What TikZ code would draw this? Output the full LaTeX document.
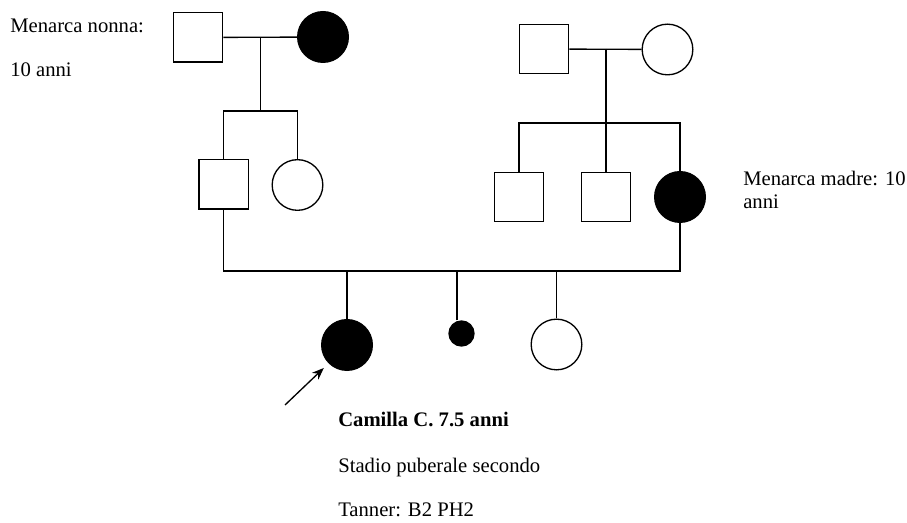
\documentclass[tikz,border=0pt]{standalone}
\usepackage{fontspec}
\setmainfont{Liberation Serif}
\usetikzlibrary{arrows.meta}
\begin{document}
\begin{tikzpicture}[x=0.75pt,y=-0.75pt,
  male/.style={draw,rectangle,minimum size=37pt,inner sep=0pt,line width=1pt},
  female/.style={draw,circle,minimum size=38pt,inner sep=0pt,line width=1pt},
  small/.style={draw,circle,fill=black,minimum size=18.75pt,inner sep=0pt,line width=1pt},
  aff/.style={fill=black},
  link/.style={line width=1pt},
  lbl/.style={anchor=base west,inner sep=0pt,font=\fontsize{15.5pt}{18pt}\selectfont}]
\useasboundingbox (0,0) rectangle (907,523);
% generation I
\node[male] (gf1) at (198,37.5) {};
\node[female,aff] (gm1) at (323,37) {};
\node[male] (gf2) at (544,49) {};
\node[female] (gm2) at (667.5,49.5) {};
% generation II
\node[male] (f) at (223.5,184.5) {};
\node[female] (aunt) at (297.5,185) {};
\node[male] (u1) at (519,197) {};
\node[male] (u2) at (606,197) {};
\node[female,aff] (m) at (680,197) {};
% generation III
\node[female,aff] (p) at (347,345) {};
\node[small] (sm) at (461.5,333.5) {};
\node[female] (sis) at (556.5,344.5) {};
% level coordinates
\coordinate (s1) at (0,111);
\coordinate (s2) at (0,123);
\coordinate (cl) at (0,271);
\coordinate (d1) at (260.5,0);
\coordinate (d2) at (606,0);
% couple 1
\draw[link] (gf1) -- (gm1);
\draw[link] (d1 |- gf1) -- (d1 |- s1);
\draw[link] (f.north) -- (f.north |- s1) -- (aunt.north |- s1) -- (aunt.north);
% couple 2
\draw[link] (gf2) -- (gm2);
\draw[link] (d2 |- gf2) -- (d2 |- s2);
\draw[link] (u1.north) -- (u1.north |- s2) -- (m.north |- s2) -- (m.north);
\draw[link] (u2.north) -- (u2.north |- s2);
% couple 3
\draw[link] (f.south) -- (f.south |- cl) -- (m.south |- cl) -- (m.south);
\draw[link] (p.north) -- (p.north |- cl);
\draw[link] ([xshift=-3.4pt]sm.north) -- ([xshift=-3.4pt]sm.north |- cl);
\draw[link] (sis.north) -- (sis.north |- cl);
% proband arrow
\coordinate (as) at (285,405);
\draw[link,-{Stealth[length=9pt,width=7pt]},shorten >=5pt] (as) -- (p.225);
% texts
\node[lbl] (t1) at (10,33) {Menarca nonna:};
\node[lbl] (t2) at (10,77) {10 anni};
\node[lbl] (t3) at (743,186) {Menarca madre: 10};
\node[lbl] (t4) at (743,209) {anni};
\node[lbl,font=\fontsize{15.5pt}{18pt}\selectfont\bfseries] (t5) at (338,427) {Camilla C. 7.5 anni};
\node[lbl] (t6) at (338,473) {Stadio puberale secondo};
\node[lbl] (t7) at (338,517) {Tanner: B2 PH2};
\end{tikzpicture}
\end{document}
